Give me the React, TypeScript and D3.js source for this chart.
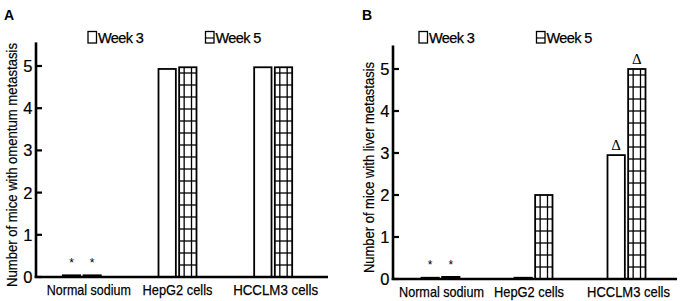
import React from 'react';
import * as d3 from 'd3';

// data
const categories = ['Normal sodium', 'HepG2 cells', 'HCCLM3 cells'];
const seriesNames = ['Week 3', 'Week 5'];
const yTicks = [0, 1, 2, 3, 4, 5];

const omentumWeek3 = [0.04, 4.93, 4.97];
const omentumWeek5 = [0.04, 4.97, 4.97];
const omentumMarks3 = ['*', '', ''];
const omentumMarks5 = ['*', '', ''];

const liverWeek3 = [0.03, 0.03, 2.95];
const liverWeek5 = [0.05, 2.0, 5.0];
const liverMarks3 = ['*', '', 'Δ'];
const liverMarks5 = ['*', '', 'Δ'];

const FONT = '"Liberation Sans", Arial, sans-serif';

interface PanelProps {
  letter: string;
  letterX: number;
  yLabel: string;
  yLabelX: number;
  yLabelY: number;
  yLabelLen: number;
  axisX: number;
  xEnd: number;
  bandRange: [number, number];
  yRange: [number, number];
  legendX: [number, number];
  labelShift: number[];
  labelLen: number[];
  week3: number[];
  week5: number[];
  marks3: string[];
  marks5: string[];
}

const Panel: React.FC<PanelProps> = (p) => {
  const x = d3.scaleBand<string>().domain(categories).range(p.bandRange);
  const y = d3.scaleLinear().domain([0, 5]).range(p.yRange);
  const y0 = y(0);
  const yTop = y(5.56);

  const bars: React.ReactNode[] = [];
  categories.forEach((cat, i) => {
    const c = (x(cat) || 0) + x.bandwidth() / 2;
    const sub = d3.scaleBand<string>().domain(seriesNames).range([c - 19, c + 19]).paddingInner(0.16);
    const w = sub.bandwidth();
    [p.week3[i], p.week5[i]].forEach((v, s) => {
      const bx = sub(seriesNames[s]) || 0;
      const top = y(v);
      const h = y0 - top;
      const mark = s === 0 ? p.marks3[i] : p.marks5[i];
      const hatch: React.ReactNode[] = [];
      if (s === 1 && h > 10) {
        hatch.push(<line key="v1" x1={bx + 5} x2={bx + 5} y1={top} y2={y0} stroke="#000" strokeWidth={1.3} />);
        hatch.push(<line key="v2" x1={bx + w - 5} x2={bx + w - 5} y1={top} y2={y0} stroke="#000" strokeWidth={1.3} />);
        for (let yy = y0 - 12; yy > top + 2; yy -= 12) {
          hatch.push(<line key={'h' + yy} x1={bx} x2={bx + w} y1={yy} y2={yy} stroke="#000" strokeWidth={1.3} />);
        }
      }
      bars.push(
        <g key={cat + s}>
          <rect x={bx} y={top} width={w} height={Math.max(h, 0.5)} fill={h < 4 ? '#000' : '#fff'} stroke="#000" strokeWidth={1.8} />
          {hatch}
          {mark === '*' && (
            <text x={bx + w / 2} y={y0 - 10} textAnchor="middle" fontSize={12} fontFamily={FONT}>*</text>
          )}
          {mark === 'Δ' && (
            <text x={bx + w / 2} y={top - 5} textAnchor="middle" fontSize={15} fontFamily='"Liberation Serif", "Times New Roman", serif'>Δ</text>
          )}
        </g>
      );
    });
  });

  return (
    <g>
      <text x={p.letterX} y={20} fontSize={14} fontWeight="bold" fontFamily={FONT}>{p.letter}</text>
      {/* legend */}
      <rect x={p.legendX[0]} y={31.5} width={8.5} height={11.5} fill="#fff" stroke="#000" strokeWidth={1.3} />
      <text x={p.legendX[0] + 10} y={43} fontSize={14.5} letterSpacing={-0.6} fontFamily={FONT} stroke="#000" strokeWidth={0.25}>{seriesNames[0]}</text>
      <rect x={p.legendX[1]} y={31.5} width={8.5} height={11.5} fill="#fff" stroke="#000" strokeWidth={1.3} />
      <line x1={p.legendX[1]} x2={p.legendX[1] + 8.5} y1={38} y2={38} stroke="#000" strokeWidth={1.2} />
      <text x={p.legendX[1] + 10} y={43} fontSize={14.5} letterSpacing={-0.6} fontFamily={FONT} stroke="#000" strokeWidth={0.25}>{seriesNames[1]}</text>

      {bars}

      {/* axes */}
      <line x1={p.axisX} x2={p.axisX} y1={yTop} y2={y0 + 1} stroke="#000" strokeWidth={2.6} />
      <line x1={p.axisX - 1.3} x2={p.xEnd} y1={y0} y2={y0} stroke="#000" strokeWidth={2.6} />
      {yTicks.map((t) => (
        <g key={t}>
          <line x1={p.axisX} x2={p.axisX + 6} y1={y(t)} y2={y(t)} stroke="#000" strokeWidth={2.2} />
          <text x={p.axisX - 3.5} y={y(t) + 6} textAnchor="end" fontSize={16.5} fontFamily={FONT} stroke="#000" strokeWidth={0.2}>{t}</text>
        </g>
      ))}
      {categories.map((cat, i) => (
        <text
          key={cat}
          x={(x(cat) || 0) + x.bandwidth() / 2 + p.labelShift[i]}
          y={y0 + 18}
          textAnchor="middle"
          fontSize={15}
          textLength={p.labelLen[i]}
          lengthAdjust="spacingAndGlyphs"
          fontFamily={FONT}
          stroke="#000"
          strokeWidth={0.25}
        >
          {cat}
        </text>
      ))}
      <text
        transform={`translate(${p.yLabelX},${p.yLabelY}) rotate(-90)`}
        textAnchor="middle"
        fontSize={15}
        textLength={p.yLabelLen}
        lengthAdjust="spacingAndGlyphs"
        fontFamily={FONT}
        stroke="#000"
        strokeWidth={0.2}
      >
        {p.yLabel}
      </text>
    </g>
  );
};

export default function App() {
  return (
    <svg width={683} height={301} style={{ position: 'absolute', left: 0, top: 0, background: '#fff' }}>
      <rect width={683} height={301} fill="#fff" />
      <Panel
        letter="A"
        letterX={4}
        yLabel="Number of mice with omentum metastasis"
        yLabelX={17}
        yLabelY={165}
        yLabelLen={244}
        axisX={36}
        xEnd={328}
        bandRange={[34, 321]}
        yRange={[277, 66]}
        legendX={[88, 205.5]}
        labelShift={[7, 0, 2.5]}
        labelLen={[84, 70, 85]}
        week3={omentumWeek3}
        week5={omentumWeek5}
        marks3={omentumMarks3}
        marks5={omentumMarks5}
      />
      <Panel
        letter="B"
        letterX={362}
        yLabel="Number of mice with liver metastasis"
        yLabelX={373.5}
        yLabelY={167.5}
        yLabelLen={211}
        axisX={393}
        xEnd={677}
        bandRange={[394, 673]}
        yRange={[279, 69]}
        legendX={[419, 536.5]}
        labelShift={[1, -4.5, 2]}
        labelLen={[85, 70, 83]}
        week3={liverWeek3}
        week5={liverWeek5}
        marks3={liverMarks3}
        marks5={liverMarks5}
      />
    </svg>
  );
}
